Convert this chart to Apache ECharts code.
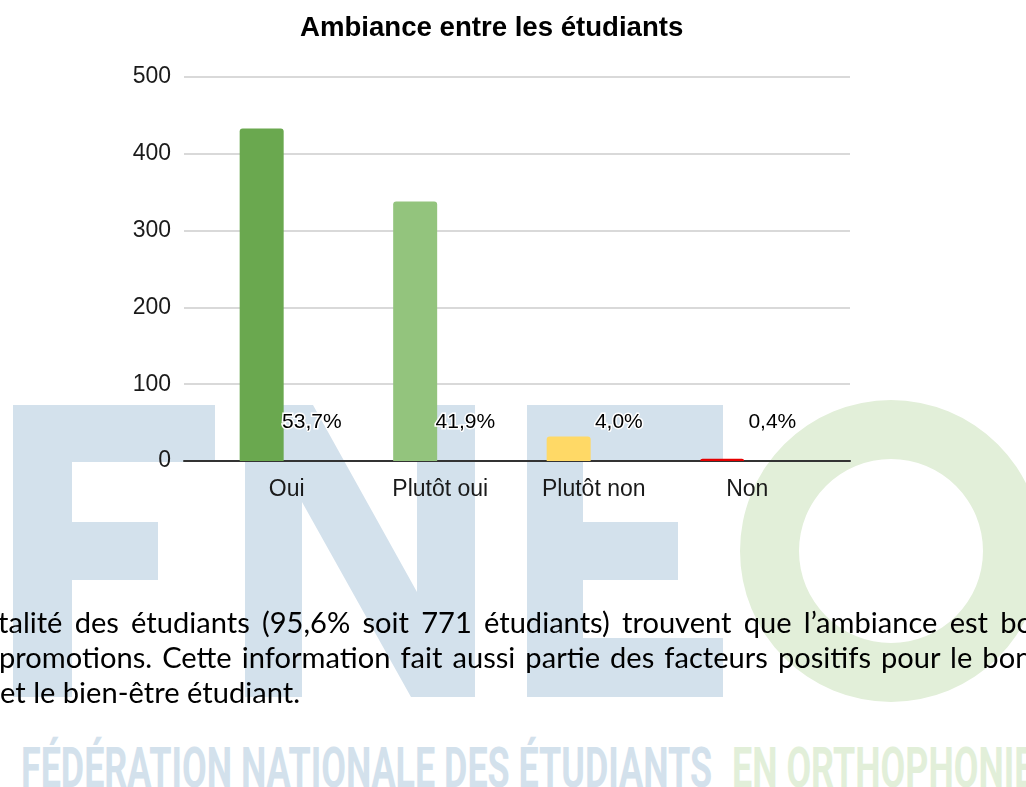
<!DOCTYPE html>
<html lang="fr">
<head>
<meta charset="UTF-8">
<title>Ambiance entre les étudiants</title>
<script src="https://cdn.jsdelivr.net/npm/echarts/dist/echarts.min.js"></script>
<style>
    html, body { margin: 0; padding: 0; background: #fff; }
    body { width: 1026px; height: 787px; overflow: hidden; position: relative; }
    #fond { position: absolute; left: 0; top: 0; }
    #main { position: absolute; left: 0; top: 0; width: 1026px; height: 787px; }
    .ligne { position: absolute; white-space: nowrap; font-family: Lato, 'Open Sans', sans-serif;
             font-size: 28px; line-height: 1; color: #000; transform-origin: 0 0; }
    #sigle { position: absolute; white-space: nowrap; font-family: Roboto, 'Liberation Sans', sans-serif;
             font-weight: 700; font-size: 56px; line-height: 1; transform-origin: 0 0; }
    #sigle .bleu { color: #d3e1ec; }
    #sigle .vert { color: #e2efd9; }
</style>
</head>
<body>
<!-- filigrane FNEO -->
<svg id="fond" width="1026" height="787">
    <path fill="#d3e1ec" d="M13 405H215V462H72V522H158V580H72V697H13Z"/>
    <path fill="#d3e1ec" d="M245 405H313L417 592V405H475V697H411L302 502V697H245Z"/>
    <path fill="#d3e1ec" d="M527 405H723V462H583V522H678V580H583V638H723V697H527Z"/>
    <path fill="#e2efd9" fill-rule="evenodd"
          d="M740 551a151 151 0 1 0 302 0a151 151 0 1 0 -302 0Z M799 551a92 92 0 1 0 184 0a92 92 0 1 0 -184 0Z"/>
</svg>
<div id="sigle"><span class="bleu">FÉDÉRATION NATIONALE DES ÉTUDIANTS</span><span class="vert">EN ORTHOPHONIE</span></div>

<div id="main"></div>

<div class="ligne" id="l1">talité des étudiants (95,6% soit 771 étudiants) trouvent que l’ambiance est bo</div>
<div class="ligne" id="l2">promotions. Cette information fait aussi partie des facteurs positifs pour le bon</div>
<div class="ligne" id="l3">et le bien-être étudiant.</div>

<script type="text/javascript">
    var categories = ['Oui', 'Plutôt oui', 'Plutôt non', 'Non'];
    var effectifs = [433, 338, 32, 3];
    var pourcentages = [53.7, 41.9, 4.0, 0.4];
    var couleurs = ['#6aa84f', '#93c47d', '#ffd966', '#e50000'];
    var yMin = 0, yMax = 500, yPas = 100;

    var police = "'Liberation Sans', Arial, sans-serif";

    // y de la ligne de base d'un bloc
    function ligneDeBase(el) {
        var m = document.createElement('span');
        m.style.display = 'inline-block';
        m.style.width = '0';
        m.style.height = '0';
        el.appendChild(m);
        var y = m.getBoundingClientRect().bottom - el.getBoundingClientRect().top;
        el.removeChild(m);
        return y;
    }

    var ctx = document.createElement('canvas').getContext('2d');
    function largeur(texte, font) {
        ctx.font = font;
        return ctx.measureText(texte).width;
    }

    // texte du paragraphe (Calibri -> Lato resserré)
    var fontPara = "28px Lato, 'Open Sans', sans-serif";
    var l3 = document.getElementById('l3');
    var s = 300 / largeur(l3.textContent, fontPara);
    function placer(id, x0, x1, base) {
        var el = document.getElementById(id);
        var txt = el.textContent;
        el.style.left = x0 + 'px';
        el.style.top = '0px';
        el.style.transform = 'scaleX(' + s + ')';
        if (x1 !== null) {
            var nb = txt.split(' ').length - 1;
            var reste = (x1 - x0) / s - largeur(txt, fontPara);
            el.style.wordSpacing = (reste / nb) + 'px';
        }
        el.style.top = (base - ligneDeBase(el)) + 'px';
    }
    placer('l1', -2, 1033, 633);
    placer('l2', -1, 1032, 668);
    placer('l3', 0, null, 703);

    // bandeau du bas
    var sigle = document.getElementById('sigle');
    var bleu = sigle.querySelector('.bleu');
    var vert = sigle.querySelector('.vert');
    var fontSigle = "700 56px Roboto, 'Liberation Sans', sans-serif";
    var s2 = 691 / largeur(bleu.textContent, fontSigle);
    vert.style.marginLeft = (20 / s2) + 'px';
    sigle.style.left = '21px';
    sigle.style.top = '0px';
    sigle.style.transform = 'scaleX(' + s2 + ')';
    sigle.style.top = (787 - ligneDeBase(sigle)) + 'px';

    var myChart = echarts.init(document.getElementById('main'));
    var option = {
        animation: false,
        backgroundColor: 'transparent',
        title: {
            text: 'Ambiance entre les étudiants',
            left: 300,
            top: 14,
            padding: 0,
            textStyle: { fontFamily: police, fontSize: 27.6, fontWeight: 'bold', color: '#000' }
        },
        grid: [
            { left: 184, right: 176, top: 77, bottom: 326 },
            { left: 210, right: 202, top: 77, bottom: 326 }
        ],
        xAxis: [
            {
                gridIndex: 0, type: 'value', min: 0, max: 1, z: 1,
                axisLine: { show: true, lineStyle: { color: '#333', width: 2 } },
                axisTick: { show: false }, axisLabel: { show: false }, splitLine: { show: false }
            },
            {
                gridIndex: 1, type: 'category', data: categories,
                axisLine: { show: false }, axisTick: { show: false },
                axisLabel: { margin: 17, fontSize: 23, color: '#1a1a1a', fontFamily: police }
            }
        ],
        yAxis: [
            {
                gridIndex: 0, type: 'value', min: yMin, max: yMax, interval: yPas,
                axisLine: { show: false }, axisTick: { show: false },
                axisLabel: { margin: 13, fontSize: 23, color: '#1a1a1a', fontFamily: police },
                splitLine: { lineStyle: { color: '#cccccc', width: 1.5 } }
            },
            { gridIndex: 1, type: 'value', min: yMin, max: yMax, show: false }
        ],
        series: [
            {
                name: 'Effectif',
                type: 'bar',
                xAxisIndex: 1, yAxisIndex: 1,
                barWidth: 44, barGap: '14%',
                data: effectifs.map(function (v, i) {
                    return { value: v, itemStyle: { color: couleurs[i] } };
                }),
                itemStyle: { borderRadius: [3, 3, 0, 0] },
                emphasis: { disabled: true }
            },
            {
                name: 'Pourcentage',
                type: 'bar',
                xAxisIndex: 1, yAxisIndex: 1,
                barWidth: 44,
                data: pourcentages,
                itemStyle: { color: 'rgba(0,0,0,0)' },
                emphasis: { disabled: true },
                label: {
                    show: true,
                    position: 'insideBottom',
                    distance: 28,
                    fontFamily: police,
                    fontSize: 21,
                    color: '#000',
                    textBorderColor: '#fff',
                    textBorderWidth: 3,
                    formatter: function (p) {
                        return p.value.toFixed(1).replace('.', ',') + '%';
                    }
                }
            }
        ]
    };
    myChart.setOption(option);
</script>
</body>
</html>
